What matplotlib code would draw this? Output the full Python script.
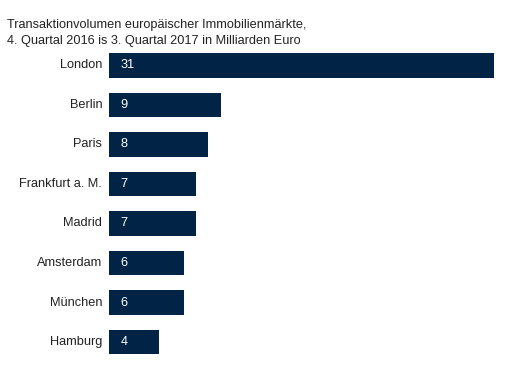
import matplotlib
matplotlib.use("Agg")
import matplotlib.pyplot as plt

cities = ["London", "Berlin", "Paris", "Frankfurt a. M.", "Madrid", "Amsterdam", "München", "Hamburg"]
values = [31, 9, 8, 7, 7, 6, 6, 4]
title_lines = ["Transaktionvolumen europäischer Immobilienmärkte,",
               "4. Quartal 2016 is 3. Quartal 2017 in Milliarden Euro"]

plt.rcParams['font.family'] = ['Liberation Sans', 'DejaVu Sans']
W, H = 518, 385
fig = plt.figure(figsize=(W / 100, H / 100), dpi=100)
top_px, bot_px = 45.75, 361.75
ax = fig.add_axes([109 / W, 1 - bot_px / H, (494 - 109) / W, (bot_px - top_px) / H])
navy = "#012345"
pos = list(range(len(cities)))
ax.barh(pos, values, height=0.61, color=navy)
ax.set_xlim(0, 31)
ax.set_ylim(len(cities) - 0.5, -0.5)
for p, c, v in zip(pos, cities, values):
    ax.text(-0.55, p, c, ha="right", va="center", fontsize=9.2, color="#222222")
    ax.text(0.95, p, str(v), ha="left", va="center", fontsize=9.2, color="white")
ax.axis("off")
for i, line in enumerate(title_lines):
    fig.text(7 / W, 1 - (28 + 16 * i) / H, line, ha="left", va="baseline", fontsize=9.2, color="#222222")
fig.savefig("out.png", dpi=100)
